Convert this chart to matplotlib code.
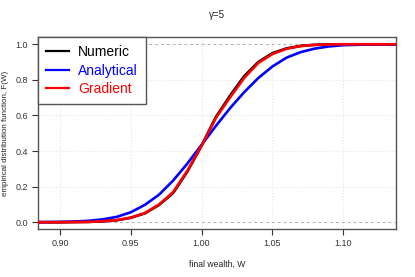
import matplotlib
matplotlib.use("Agg")
import matplotlib.pyplot as plt

plt.rcParams['font.family'] = ['Liberation Sans', 'DejaVu Sans']

# final wealth grid and the three empirical CDFs
wealth = [0.885, 0.90, 0.91, 0.92, 0.93, 0.94, 0.95, 0.96, 0.97, 0.98, 0.99, 1.00,
          1.01, 1.02, 1.03, 1.04, 1.05, 1.06, 1.07, 1.08, 1.09, 1.10, 1.12, 1.14]
numeric = [0.0, 0.0, 0.001, 0.002, 0.005, 0.011, 0.025, 0.05, 0.097, 0.165, 0.285, 0.43,
           0.59, 0.71, 0.82, 0.90, 0.95, 0.977, 0.991, 0.997, 0.999, 1.0, 1.0, 1.0]
analytical = [0.001, 0.002, 0.004, 0.008, 0.016, 0.03, 0.056, 0.098, 0.155, 0.235, 0.33, 0.435,
              0.54, 0.64, 0.73, 0.81, 0.875, 0.925, 0.956, 0.976, 0.988, 0.995, 0.999, 1.0]
gradient = [0.0, 0.0, 0.001, 0.002, 0.005, 0.012, 0.026, 0.052, 0.10, 0.17, 0.29, 0.43,
            0.585, 0.70, 0.81, 0.895, 0.945, 0.975, 0.99, 0.997, 0.999, 1.0, 1.0, 1.0]

xticks = [0.90, 0.95, 1.00, 1.05, 1.10]
yticks = [0.0, 0.2, 0.4, 0.6, 0.8, 1.0]

fig = plt.figure(figsize=(4.15, 2.77), dpi=100)
ax = fig.add_axes([38/415, 1 - 229/277, (396-38)/415, (229-37)/277])

# light dotted grid, dashed lines at 0 and 1
for xt in xticks:
    ax.axvline(xt, color='#e6e6e6', lw=0.8, ls=':', zorder=0)
for yt in yticks[1:-1]:
    ax.axhline(yt, color='#e6e6e6', lw=0.8, ls=':', zorder=0)
ax.axhline(0, color='#b0b0b0', lw=0.7, ls=(0, (3, 3)), zorder=1)
ax.axhline(1, color='#b0b0b0', lw=0.7, ls=(0, (3, 3)), zorder=1)

l1, = ax.plot(wealth, numeric, color='black', lw=1.9, label='Numeric', zorder=2)
l2, = ax.plot(wealth, analytical, color='blue', lw=1.9, label='Analytical', zorder=3)
l3, = ax.plot(wealth, gradient, color='red', lw=1.9, label='Gradient', zorder=4)

ax.set_xlim(0.8845, 1.1373)
ax.set_ylim(-0.038, 1.041)
ax.set_xticks(xticks)
ax.set_xticklabels(['%.2f' % v for v in xticks])
ax.set_yticks(yticks)
ax.set_yticklabels(['%.1f' % v for v in yticks])
ax.tick_params(direction='out', length=4, width=0.8, colors='#333333', labelsize=6.5, pad=3)

for s in ax.spines.values():
    s.set_color('#555555')
    s.set_linewidth(1.0)

ax.set_title('γ=5', fontsize=7, pad=14, color='#222222')
ax.set_xlabel('final wealth, W', fontsize=6.2, labelpad=9, color='#222222')
ax.set_ylabel('empirical distribution function, F(W)', fontsize=5.8, labelpad=5, color='#222222')

leg = ax.legend(handles=[l1, l2, l3], loc='upper left', bbox_to_anchor=(0, 1),
                borderaxespad=0, fontsize=10, frameon=True, fancybox=False,
                handlelength=1.65, handletextpad=0.65, labelspacing=0.3,
                borderpad=0.6)
leg.get_frame().set_edgecolor('#555555')
leg.get_frame().set_linewidth(1.0)
leg.get_frame().set_alpha(1)
for line in leg.get_lines():
    line.set_linewidth(1.6)
for txt, c in zip(leg.get_texts(), ['black', 'blue', 'red']):
    txt.set_color(c)

fig.savefig('out.png', dpi=100)
